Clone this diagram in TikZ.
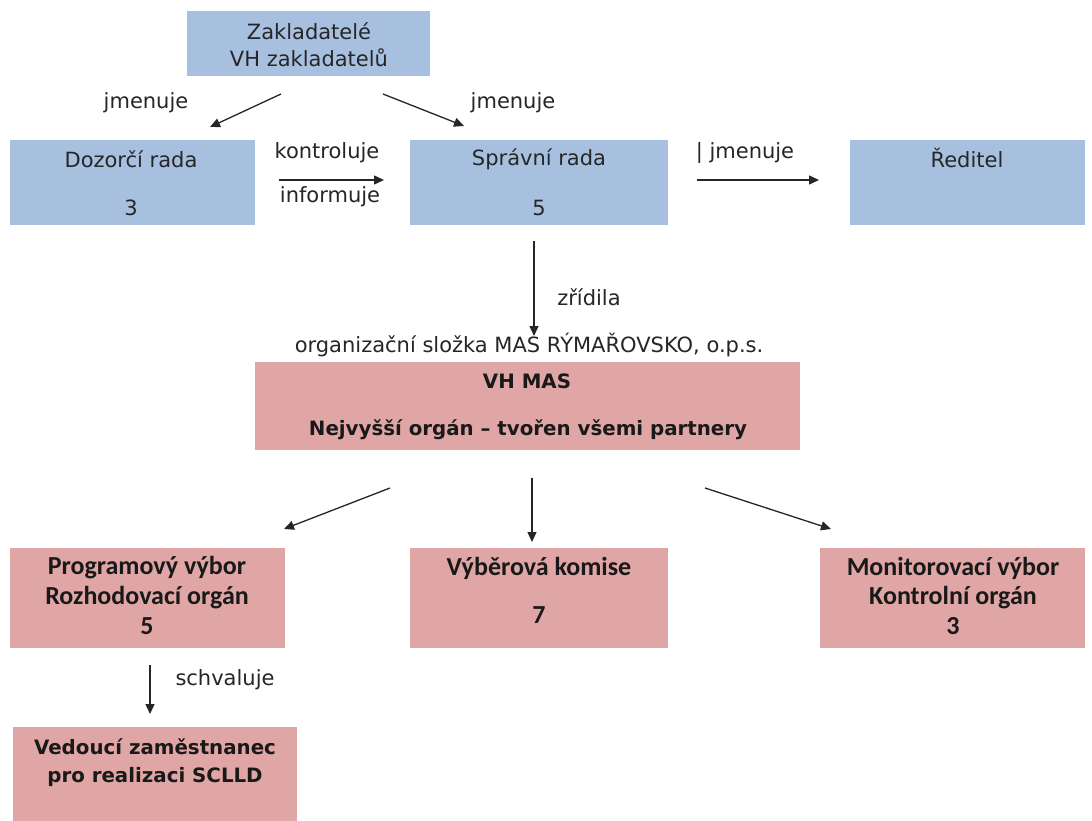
\documentclass[tikz,border=0pt]{standalone}
\usepackage{fontspec}
\setmainfont{DejaVu Sans}
\newfontfamily\calfont{Carlito}
\usetikzlibrary{arrows.meta}
\definecolor{boxblue}{RGB}{168,192,223}
\definecolor{boxred}{RGB}{224,166,166}
\begin{document}
\begin{tikzpicture}[x=1pt,y=-1pt,
  bluebox/.style={fill=boxblue,draw=none,inner sep=0pt,outer sep=0pt},
  redbox/.style={fill=boxred,draw=none,inner sep=0pt,outer sep=0pt},
  txt/.style={inner sep=0pt,font=\fontsize{21}{25}\selectfont,text=black!85},
  btxt/.style={inner sep=0pt,font=\fontsize{19.8}{23}\selectfont\bfseries,text=black!90},
  ctxt/.style={inner sep=0pt,font=\fontsize{26}{30}\calfont\bfseries,text=black!90},
  arr/.style={-{Triangle[length=10pt,width=9pt]},line width=1.3pt,black!85}]
\useasboundingbox (0,0) rectangle (1092,821);
\fill[white] (0,0) rectangle (1092,821);

% boxes
\node[bluebox,minimum width=243pt,minimum height=65pt] (zak) at (308.5,43.5) {};
\node[bluebox,minimum width=245pt,minimum height=85pt] (doz) at (132.5,182.5) {};
\node[bluebox,minimum width=258pt,minimum height=85pt] (spr) at (539,182.5) {};
\node[bluebox,minimum width=235pt,minimum height=85pt] (red) at (967.5,182.5) {};
\node[redbox,minimum width=545pt,minimum height=88pt] (vh) at (527.5,406) {};
\node[redbox,minimum width=275pt,minimum height=100pt] (prog) at (147.5,598) {};
\node[redbox,minimum width=258pt,minimum height=100pt] (vyb) at (539,598) {};
\node[redbox,minimum width=265pt,minimum height=100pt] (mon) at (952.5,598) {};
\node[redbox,minimum width=284pt,minimum height=94pt] (ved) at (155,774) {};

% box texts
\node[txt] (zak1) at (309,31) {Zakladatelé};
\node[txt] (zak2) at (309,58) {VH zakladatelů};
\node[txt] (doz1) at (131,159) {Dozorčí rada};
\node[txt] (doz2) at (131,208) {3};
\node[txt] (spr1) at (539,159) {Správní rada};
\node[txt] (spr2) at (539,208) {5};
\node[txt] (red1) at (967,158) {Ředitel};
\node[btxt] (vh1) at (527,381) {VH MAS};
\node[btxt] (vh2) at (528,430) {Nejvyšší orgán – tvořen všemi partnery};
\node[ctxt] (prog1) at (147,568) {Programový výbor};
\node[ctxt] (prog2) at (147,598) {Rozhodovací orgán};
\node[ctxt] (prog3) at (147,626) {5};
\node[ctxt] (vyb1) at (539,568) {Výběrová komise};
\node[ctxt] (vyb2) at (539,615) {7};
\node[ctxt] (mon1) at (953,568) {Monitorovací výbor};
\node[ctxt] (mon2) at (953,598) {Kontrolní orgán};
\node[ctxt] (mon3) at (953,626) {3};
\node[btxt] (ved1) at (155,747) {Vedoucí zaměstnanec};
\node[btxt] (ved2) at (155,777) {pro realizaci SCLLD};

% labels
\node[txt] (l1) at (146,103) {jmenuje};
\node[txt] (l2) at (513,103) {jmenuje};
\node[txt] (l3) at (327,153) {kontroluje};
\node[txt] (l4) at (330,197) {informuje};
\node[txt] (l5) at (745,153) {| jmenuje};
\node[txt] (l6) at (589,297) {zřídila};
\node[txt] (l7) at (529,345) {organizační složka MAS RÝMAŘOVSKO, o.p.s.};
\node[txt] (l8) at (225,680) {schvaluje};

% connector ends
\coordinate (a1s) at (281,94);  \coordinate (a1e) at (210,127);
\coordinate (a2s) at (383,94);  \coordinate (a2e) at (464,126);
\coordinate (a3s) at (279,180); \coordinate (a3e) at (384,180);
\coordinate (a4s) at (697,180); \coordinate (a4e) at (819,180);
\coordinate (a5s) at (534,241); \coordinate (a5e) at (534,336);
\coordinate (a6s) at (390,488); \coordinate (a6e) at (284,529);
\coordinate (a7s) at (532,478); \coordinate (a7e) at (532,542);
\coordinate (a8s) at (705,488); \coordinate (a8e) at (831,529);
\coordinate (a9s) at (150,665); \coordinate (a9e) at (150,714);

\draw[arr] (a1s) -- (a1e);
\draw[arr] (a2s) -- (a2e);
\draw[arr] (a3s) -- (a3e);
\draw[arr] (a4s) -- (a4e);
\draw[arr] (a5s) -- (a5e);
\draw[arr] (a6s) -- (a6e);
\draw[arr] (a7s) -- (a7e);
\draw[arr] (a8s) -- (a8e);
\draw[arr] (a9s) -- (a9e);
\end{tikzpicture}
\end{document}
